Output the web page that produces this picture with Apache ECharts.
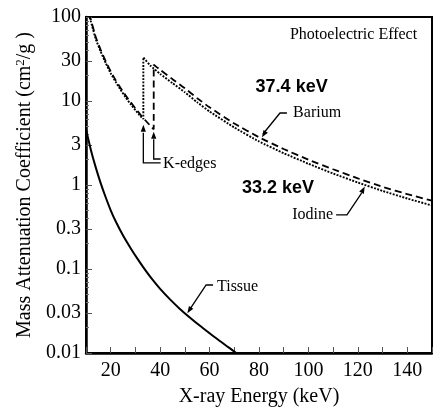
<!DOCTYPE html>
<html><head><meta charset="utf-8">
<script src="https://cdn.jsdelivr.net/npm/echarts@6/dist/echarts.min.js"></script>
<style>html,body{margin:0;padding:0;background:#fff}#c{width:433px;height:407px}</style>
</head><body><div id="c"></div>
<script>
// ---- data (keV, cm^2/g) ----
const iodineE  = [10,12,14,16,18,20,22,24,26,28,30,32,33.2,33.2,36,40,45,50,55,60,70,80,90,100,110,120,130,140,150];
const iodineMu = [140,88,54,38.5,28.2,21.4,16.9,13.6,11.1,9.2,7.8,6.6,6.1,33,26.5,21,16.3,12.7,9.65,7.5,4.84,3.3,2.39,1.79,1.37,1.07,0.85,0.69,0.57];
const bariumE  = [10,12,14,16,18,20,22,24,26,28,30,32,34,36,37.4,37.4,40,45,50,55,60,70,80,90,100,110,120,130,140,150];
const bariumMu = [147,92,57,40.4,29.6,22.5,17.7,14.3,11.7,9.7,8.2,6.9,5.9,5.08,4.6,27,23.5,18.2,14.2,10.8,8.4,5.4,3.7,2.68,2.0,1.54,1.2,0.95,0.78,0.65];
const tissueE  = [10,12,14,16,18,20,22,25,28,31,34,37,40,44,48,52,56,60,64,68,72];
const tissueMu = [4.6,2.6,1.6,1.04,0.71,0.50,0.37,0.25,0.178,0.130,0.097,0.074,0.058,0.0435,0.0335,0.0265,0.0212,0.0172,0.0140,0.0115,0.0094];
const yTickLabels = [0.01,0.03,0.1,0.3,1,3,10,30,100];
const yMinorTicks = [0.02,0.04,0.05,0.06,0.07,0.08,0.09,0.2,0.4,0.5,0.6,0.7,0.8,0.9,2,4,5,6,7,8,9,20,40,50,60,70,80,90];
const xTickLabels = [20,40,60,80,100,120,140];
const edgeLabels = ['37.4 keV','33.2 keV'];

const serif = '"Liberation Serif","Times New Roman",serif';
const pairs = (a,b) => a.map((x,i)=>[x,b[i]]);

const chart = echarts.init(document.getElementById('c'), null, {renderer:'canvas'});
const baseY = {
  type:'log', logBase:10, min:0.01, max:100, position:'left',
  splitLine:{show:false}, minorSplitLine:{show:false}
};
chart.setOption({
  animation:false,
  backgroundColor:'#fff',
  grid:{left:86, right:1, top:17, bottom:54, containLabel:false, outerBoundsMode:'none',
        show:true, borderColor:'#000', borderWidth:2, backgroundColor:'transparent'},
  xAxis:{
    type:'value', min:10, max:150, interval:10,
    axisLine:{lineStyle:{color:'#000', width:2.5}},
    axisTick:{inside:true, length:6, lineStyle:{color:'#555', width:1}},
    axisLabel:{fontFamily:serif, fontSize:20, color:'#000', margin:8,
      formatter: v => xTickLabels.indexOf(Math.round(v))>=0 ? String(Math.round(v)) : ''},
    splitLine:{show:false},
    name:'X-ray Energy (keV)', nameLocation:'middle', nameGap:34,
    nameTextStyle:{fontFamily:serif, fontSize:20, color:'#000'}
  },
  yAxis:[
    Object.assign({}, baseY, {
      axisLine:{lineStyle:{color:'#000', width:2.5}},
      axisTick:{inside:true, length:6, customValues:yTickLabels, lineStyle:{color:'#555', width:1}},
      axisLabel:{fontFamily:serif, fontSize:20, color:'#000', margin:5, customValues:yTickLabels,
        formatter: v => String(+(+v).toPrecision(2))},
      name:'Mass Attenuation Coefficient (cm{sup|2}/g )', nameLocation:'middle', nameGap:47, nameRotate:90,
      nameTextStyle:{fontFamily:serif, fontSize:20, color:'#000',
        rich:{sup:{fontFamily:serif, fontSize:13, color:'#000', padding:[0,0,10,0]}}}
    }),
    Object.assign({}, baseY, {
      offset:0,
      axisLine:{show:false},
      axisTick:{inside:true, length:3, customValues:yMinorTicks, lineStyle:{color:'#777', width:1}},
      axisLabel:{show:false}
    })
  ],
  series:[
    {name:'Iodine', type:'line', data:pairs(iodineE, iodineMu), showSymbol:false, symbol:'none', smooth:0.15,
     lineStyle:{color:'#000', width:1.9, type:[1.9,1.4]}, z:3},
    {name:'Barium', type:'line', data:pairs(bariumE, bariumMu), showSymbol:false, symbol:'none', smooth:0.15,
     lineStyle:{color:'#000', width:1.8, type:[7,4]}, z:3},
    {name:'Tissue', type:'line', data:pairs(tissueE, tissueMu), showSymbol:false, symbol:'none', smooth:0.3,
     lineStyle:{color:'#000', width:2}, z:3}
  ]
});

// ---- annotations anchored in data space ----
const P = (k,v) => chart.convertToPixel({xAxisIndex:0, yAxisIndex:0}, [k,v]);
function text(k,v,str,align,font){
  const p = P(k,v);
  return {type:'text', x:p[0], y:p[1], z:10, style:{text:str, fill:'#000', font:font,
    align:align, verticalAlign:'middle', textAlign:align, textVerticalAlign:'middle'}};
}
function poly(pts){
  return {type:'polyline', z:10, shape:{points:pts.map(q=>P(q[0],q[1]))}, style:{stroke:'#000', lineWidth:1.3, fill:null}};
}
function head(tip, from){
  const t = P(tip[0],tip[1]), f = P(from[0],from[1]);
  let dx=t[0]-f[0], dy=t[1]-f[1]; const L=Math.hypot(dx,dy)||1; dx/=L; dy/=L;
  const bx=t[0]-dx*7, by=t[1]-dy*7, px=-dy*2.6, py=dx*2.6;
  return {type:'polygon', z:10, shape:{points:[[t[0],t[1]],[bx+px,by+py],[bx-px,by-py]]}, style:{fill:'#000'}};
}
const serif16 = '16px "Liberation Serif", serif';
const sansB = 'bold 18px "Liberation Sans", Arial, sans-serif';
const g = [
  text(144, 61, 'Photoelectric Effect', 'right', serif16),
  text(93.2, 14.7, edgeLabels[0], 'center', sansB),
  text(87.7, 0.92, edgeLabels[1], 'center', sansB),
  text(93.8, 7.2, 'Barium', 'left', serif16),
  poly([[91.3,7.2],[88.5,7.2],[81.6,4.05]]), head([81.2,3.7],[84,5]),
  text(110.0, 0.44, 'Iodine', 'right', serif16),
  poly([[111.2,0.44],[115.6,0.44],[121.5,0.8]]), head([122.8,0.96],[119.7,0.645]),
  text(63.0, 0.061, 'Tissue', 'left', serif16),
  poly([[61.4,0.0645],[58.6,0.0645],[52.0,0.033]]), head([51.0,0.0297],[56,0.05]),
  text(41.2, 1.78, 'K-edges', 'left', serif16),
  poly([[33.2,4.2],[33.2,1.83],[40.2,1.83]]), head([33.2,5.2],[33.2,3]),
  poly([[37.4,3.5],[37.4,2.04],[40.2,2.04]]), head([37.4,4.3],[37.4,3])
];
chart.setOption({graphic:g});
</script></body></html>
